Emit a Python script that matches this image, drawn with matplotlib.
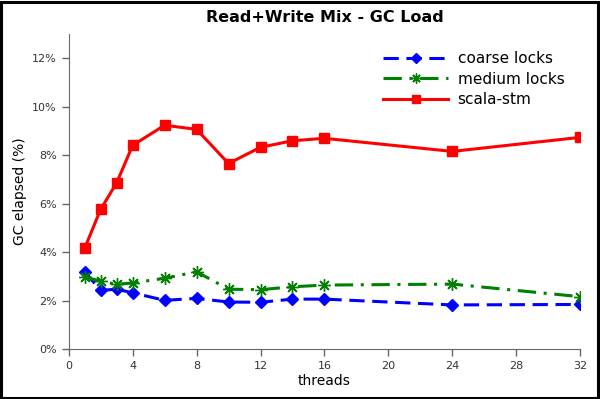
import matplotlib
matplotlib.use("Agg")
import matplotlib.pyplot as plt
from matplotlib.patches import Rectangle
from matplotlib.ticker import FuncFormatter

threads = [1, 2, 3, 4, 6, 8, 10, 12, 14, 16, 24, 32]
coarse = [3.19, 2.42, 2.47, 2.32, 2.01, 2.09, 1.94, 1.93, 2.06, 2.06, 1.82, 1.84]
medium = [2.98, 2.80, 2.67, 2.73, 2.92, 3.19, 2.47, 2.45, 2.57, 2.64, 2.68, 2.16]
stm = [4.16, 5.77, 6.86, 8.41, 9.24, 9.07, 7.66, 8.33, 8.60, 8.70, 8.16, 8.74]

fig = plt.figure(figsize=(6, 3.99), dpi=100)
ax = fig.add_axes([0.1145, 0.1253, 0.8525, 0.789])

ax.plot(threads, coarse, color="#0000ff", lw=2.2, ls=(0, (5, 2.5)), marker="D", ms=6,
        label="coarse locks")
ax.plot(threads, medium, color="#008000", lw=2.2, ls=(0, (6, 2.5, 1, 2.5)), marker=(8, 2, 0),
        ms=9, mew=1.0, mfc="#008000", mec="#008000", label="medium locks")
ax.plot(threads, stm, color="#ff0000", lw=2.2, marker="s", ms=7, label="scala-stm")

ax.set_xlim(0, 32)
ax.set_ylim(0, 13)
ax.set_xticks(range(0, 33, 4))
ax.set_yticks(range(0, 13, 2))
ax.yaxis.set_major_formatter(FuncFormatter(lambda v, p: f"{int(v)}%"))
for s in ["top", "right"]:
    ax.spines[s].set_visible(False)
for s in ["left", "bottom"]:
    ax.spines[s].set_color("#666666")
ax.tick_params(colors="#333333", labelsize=8, direction="out", length=5, width=1)
ax.tick_params(axis="both", color="#666666")
ax.set_xlabel("threads", fontsize=10, labelpad=2)
ax.set_ylabel("GC elapsed (%)", fontsize=10)
ax.set_title("Read+Write Mix - GC Load", fontsize=11.5, fontweight="bold", pad=9)
leg = ax.legend(loc="upper right", frameon=False, fontsize=11, handlelength=4.3,
                handletextpad=0.6, borderaxespad=0.3, labelspacing=0.35,
                bbox_to_anchor=(0.99, 0.98), markerscale=0.8)

fig.patches.append(Rectangle((0.002, 0.003), 0.995, 0.993, transform=fig.transFigure,
                             fill=False, edgecolor="black", lw=2.2))
fig.savefig("out.png", dpi=100)
